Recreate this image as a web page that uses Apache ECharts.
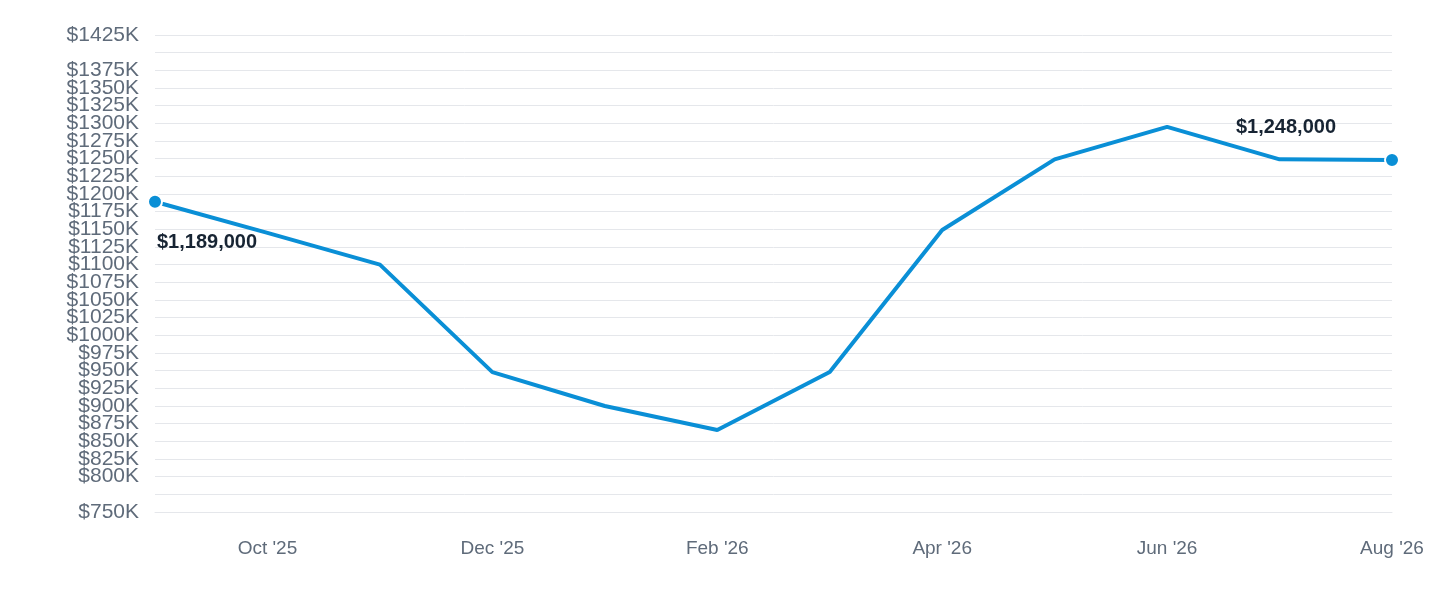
<!DOCTYPE html>
<html><head><meta charset="utf-8">
<script src="https://cdn.jsdelivr.net/npm/echarts@6/dist/echarts.min.js"></script>
<style>html,body{margin:0;padding:0;background:#fff}#c{width:1440px;height:600px}</style>
</head><body><div id="c"></div>
<script>
const categories = ["Sep '25","Oct '25","Nov '25","Dec '25","Jan '26","Feb '26","Mar '26","Apr '26","May '26","Jun '26","Jul '26","Aug '26"];
const values = [1189000,1145000,1100000,948000,900000,866000,948000,1149000,1249000,1295000,1249000,1248000];
const yMin = 750000, yMax = 1425000, yStep = 25000;
const fmt = v => '$' + v.toLocaleString('en-US');
const chart = echarts.init(document.getElementById('c'));
const last = values.length - 1;
chart.setOption({
  animation:false,
  grid:{left:155,right:48,top:35,bottom:88},
  xAxis:{type:'category',data:categories,boundaryGap:false,
    axisLine:{show:true,lineStyle:{color:'#e5e7eb'}},axisTick:{show:false},
    axisLabel:{interval:i=>i%2===1,color:'#5f6b7a',fontSize:19,margin:27,fontFamily:'Helvetica, Arial, sans-serif'},
    splitLine:{show:false}},
  yAxis:{type:'value',min:yMin,max:yMax,interval:yStep,
    axisLine:{show:false},axisTick:{show:false},
    axisLabel:{formatter:v=>'$'+(v/1000)+'K',color:'#5f6b7a',fontSize:21,margin:16,showMinLabel:true,showMaxLabel:true,hideOverlap:false,fontFamily:'Helvetica, Arial, sans-serif'},
    splitLine:{lineStyle:{color:'#e5e7eb',width:1}}},
  series:[{type:'line',data:values.map((v,i)=>{
      const d={value:v,symbolSize:(i===0||i===last)?14:0};
      if(i===0) d.label={show:true,position:'bottom',align:'left',offset:[2,18]};
      if(i===last) d.label={show:true,position:'top',align:'right',offset:[-56,-10]};
      return d;}),
    symbol:'circle',showAllSymbol:true,
    lineStyle:{color:'#0a8fd6',width:4},itemStyle:{color:'#0a8fd6',borderColor:'#fff',borderWidth:2},
    label:{show:false,formatter:p=>fmt(p.value),fontSize:20,fontWeight:'bold',color:'#172433',fontFamily:'Helvetica, Arial, sans-serif'}
  }]
});
</script></body></html>
